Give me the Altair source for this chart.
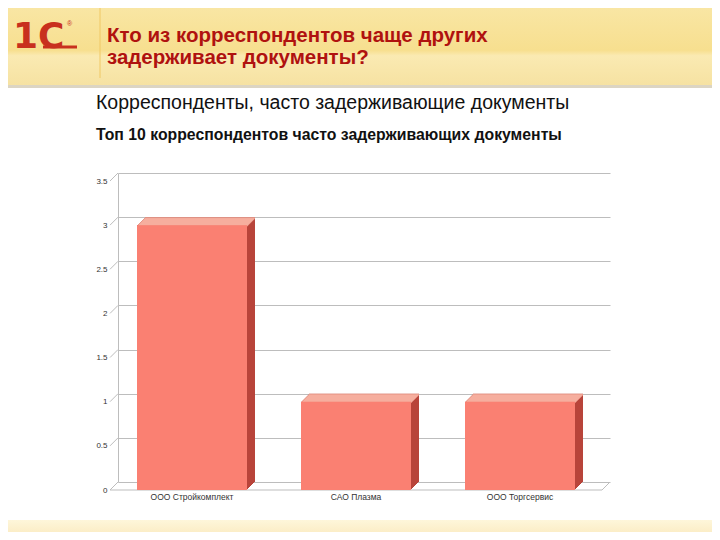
import altair as alt
import pandas as pd

# ---- data ----
categories = ["ООО Стройкомплект", "САО Плазма", "ООО Торгсервис"]
values = [3, 1, 1]
y_ticks = [0, 0.5, 1, 1.5, 2, 2.5, 3, 3.5]

slide_title = ["Кто из корреспондентов чаще других", "задерживает документы?"]
chart_title = "Корреспонденты, часто задерживающие документы"
chart_subtitle = "Топ 10 корреспондентов часто задерживающих документы"

df = pd.DataFrame({"cat": categories, "val": values})
ticks_df = pd.DataFrame({"v": y_ticks})
one = pd.DataFrame({"a": [0]})

W, H = 492, 309
DEPTH = 8
FRONT = "#FA8072"
SIDE = "#B8443A"
TOP = "#FFBDAD"
GRID = "#BDBDBD"

xs = alt.Scale(domain=categories, paddingInner=0, paddingOuter=0)
ys = alt.Scale(domain=[0, 3.5], nice=False)

base = alt.Chart(df)

# ---- decoration (slide) ----
header = alt.Chart(one).mark_rect(
    color=alt.Gradient(
        gradient="linear",
        stops=[
            alt.GradientStop(color="#F9E6A4", offset=0),
            alt.GradientStop(color="#F7DF8F", offset=0.55),
            alt.GradientStop(color="#FAEAB2", offset=0.62),
            alt.GradientStop(color="#F6E2A2", offset=1),
        ],
        x1=0, x2=0, y1=0, y2=1,
    )
).encode(x=alt.value(-110), x2=alt.value(594), y=alt.value(-165), y2=alt.value(-88))

sep = alt.Chart(one).mark_rect(color="#DCD5C3").encode(
    x=alt.value(-110), x2=alt.value(594), y=alt.value(-88), y2=alt.value(-85)
)

bottom = alt.Chart(one).mark_rect(
    color=alt.Gradient(
        gradient="linear",
        stops=[
            alt.GradientStop(color="#FEF6DA", offset=0),
            alt.GradientStop(color="#FAE9BE", offset=1),
        ],
        x1=0, x2=0, y1=0, y2=1,
    )
).encode(x=alt.value(-110), x2=alt.value(594), y=alt.value(347), y2=alt.value(365))

vline = alt.Chart(one).mark_rule(color="#F0C864", strokeWidth=1).encode(
    x=alt.value(-18), y=alt.value(-165), y2=alt.value(-95)
)

logo = alt.Chart(one).mark_text(
    text="1С", font="DejaVu Sans", fontWeight="bold", fontSize=36,
    color="#C8301E", align="left", baseline="alphabetic"
).encode(x=alt.value(-105), y=alt.value(-125))
logo_line = alt.Chart(one).mark_rule(color="#C8301E", strokeWidth=3).encode(
    x=alt.value(-75), x2=alt.value(-41), y=alt.value(-126)
)
logo_r = alt.Chart(one).mark_text(
    text="®", fontSize=7, color="#C8301E", align="left"
).encode(x=alt.value(-51), y=alt.value(-149))

t1 = alt.Chart(one).mark_text(
    text=slide_title[0], font="Liberation Sans Narrow, Arial Narrow, Liberation Sans",
    fontSize=20.5, fontWeight="bold", color="#B0120F", align="left", baseline="alphabetic"
).encode(x=alt.value(-11), y=alt.value(-131))
t2 = alt.Chart(one).mark_text(
    text=slide_title[1], font="Liberation Sans Narrow, Arial Narrow, Liberation Sans",
    fontSize=20.5, fontWeight="bold", color="#B0120F", align="left", baseline="alphabetic"
).encode(x=alt.value(-11), y=alt.value(-109))

ct = alt.Chart(one).mark_text(
    text=chart_title, font="Liberation Sans", fontSize=19.5, color="#111111",
    align="left", baseline="alphabetic"
).encode(x=alt.value(-22), y=alt.value(-64))
cst = alt.Chart(one).mark_text(
    text=chart_subtitle, font="Liberation Sans", fontSize=15.8, fontWeight="bold",
    color="#111111", align="left", baseline="alphabetic"
).encode(x=alt.value(-22), y=alt.value(-33))

# ---- axes / grid ----
grid = alt.Chart(one).mark_point(opacity=0).encode(
    y=alt.Y("a:Q", scale=ys, axis=alt.Axis(
        values=y_ticks, format="~g", grid=True, gridColor=GRID, gridWidth=1,
        domain=True, domainColor=GRID, ticks=False, labelOffset=DEPTH,
        labelPadding=11, labelFontSize=8, labelColor="#333333",
        labelFont="Liberation Sans", title=None,
    ))
)

diag = alt.Chart(ticks_df).mark_rule(color=GRID, strokeWidth=1, yOffset=DEPTH, y2Offset=0).encode(
    y=alt.Y("v:Q", scale=ys), y2="v:Q", x=alt.value(-DEPTH), x2=alt.value(0)
)
floor_front = alt.Chart(one).mark_rule(color=GRID, strokeWidth=1, yOffset=DEPTH).encode(
    y=alt.datum(0), x=alt.value(-DEPTH), x2=alt.value(W - DEPTH)
)
floor_right = alt.Chart(one).mark_rule(color=GRID, strokeWidth=1, yOffset=DEPTH, y2Offset=0).encode(
    y=alt.datum(0), y2=alt.datum(0), x=alt.value(W - DEPTH), x2=alt.value(W)
)

xenc = alt.X("cat:N", scale=xs, sort=categories, axis=alt.Axis(
    title=None, domain=False, ticks=False, labelAngle=0, labelOffset=-DEPTH,
    labelPadding=10, labelFontSize=8.5, labelColor="#333333", labelFont="Liberation Sans"
))

layers = [header, sep, bottom, vline, logo, logo_line, logo_r, t1, t2, ct, cst,
          grid, diag, floor_front, floor_right]

for i in range(DEPTH + 1):
    layers.append(base.mark_bar(size=110, color=SIDE, xOffset=-i, x2Offset=-i,
                                yOffset=i, y2Offset=i).encode(
        x=xenc, y=alt.Y("val:Q", scale=ys), y2=alt.datum(0)))
for i in range(DEPTH):
    layers.append(base.mark_tick(orient="horizontal", size=110, thickness=2, color=TOP,
                                 xOffset=-i, yOffset=i + 1).encode(
        x=xenc, y=alt.Y("val:Q", scale=ys)))
layers.append(base.mark_bar(size=110, color=FRONT, xOffset=-DEPTH, x2Offset=-DEPTH,
                            yOffset=DEPTH, y2Offset=DEPTH).encode(
    x=xenc, y=alt.Y("val:Q", scale=ys), y2=alt.datum(0)))

chart = alt.layer(*layers).properties(
    width=W, height=H,
    autosize=alt.AutoSizeParams(type="none"),
    padding={"left": 110, "top": 165, "right": 102, "bottom": 50},
    background="white",
).configure_view(stroke=None)

chart.save("out.html", embed_options={"renderer": "svg", "actions": False})
